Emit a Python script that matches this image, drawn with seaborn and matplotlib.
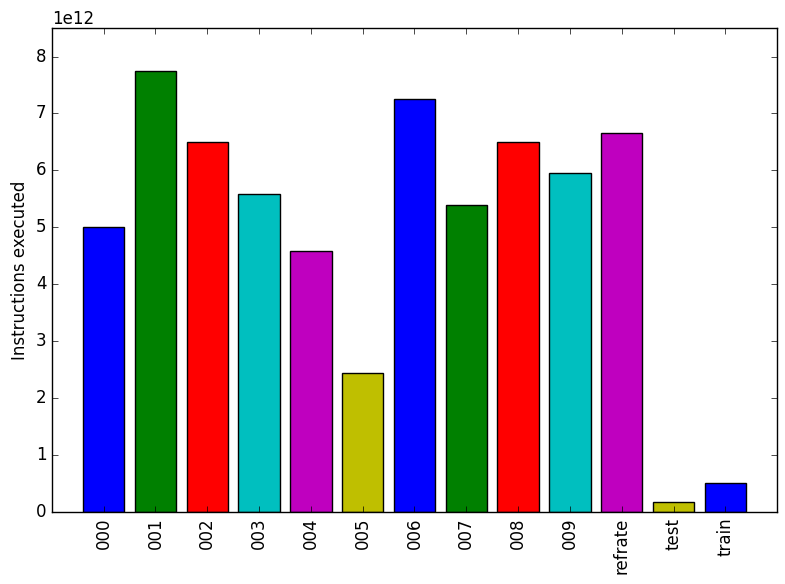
import matplotlib
matplotlib.use('Agg')
import matplotlib.pyplot as plt
import seaborn as sns

# Data
benchmarks = ['000', '001', '002', '003', '004', '005', '006', '007', '008', '009',
              'refrate', 'test', 'train']
instructions = [5.00e12, 7.75e12, 6.50e12, 5.59e12, 4.58e12, 2.45e12, 7.26e12,
                5.39e12, 6.50e12, 5.96e12, 6.66e12, 0.18e12, 0.51e12]
bar_colors = ['b', 'g', 'r', 'c', 'm', 'y', 'b', 'g', 'r', 'c', 'm', 'y', 'b']

plt.style.use('classic')
fig = plt.figure(figsize=(7.85, 5.84), dpi=100, facecolor='white')
ax = fig.add_axes([0.066, 0.123, 0.924, 0.829])

sns.barplot(x=benchmarks, y=instructions, hue=benchmarks, palette=bar_colors,
            legend=False, saturation=1, width=0.8, edgecolor='black',
            linewidth=1, ax=ax)

ax.set_xlim(-1, 13)
ax.set_ylim(0, 8.5e12)
ax.set_xticks(range(len(benchmarks)))
ax.set_xticklabels(benchmarks, rotation=90)
ax.set_xlabel('')
ax.set_ylabel('Instructions executed')

fig.savefig('out.png', dpi=100, facecolor='white')
